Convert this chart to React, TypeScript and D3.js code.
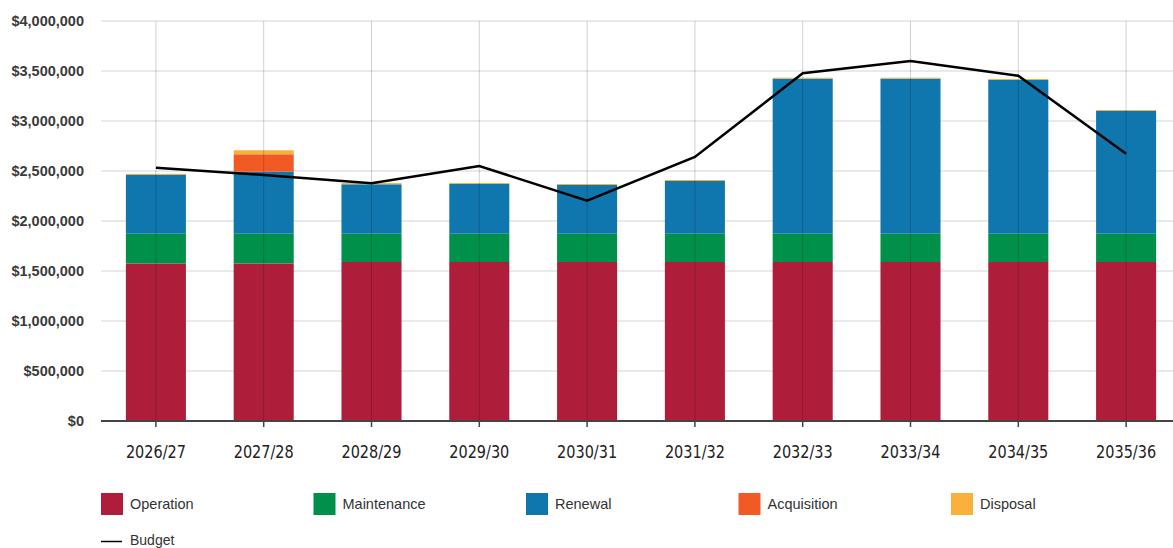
import React from "react";
import * as d3 from "d3";

const years = ["2026/27", "2027/28", "2028/29", "2029/30", "2030/31", "2031/32", "2032/33", "2033/34", "2034/35", "2035/36"];
const operation = [1575000, 1575000, 1590000, 1590000, 1590000, 1590000, 1590000, 1590000, 1590000, 1590000];
const maintenance = [298000, 298000, 283000, 283000, 283000, 283000, 283000, 283000, 283000, 283000];
const renewal = [587000, 620000, 494000, 497000, 487000, 527000, 1550000, 1550000, 1537000, 1227000];
const acquisition = [0, 174000, 0, 0, 0, 0, 0, 0, 0, 0];
const disposal = [12000, 40000, 12000, 10000, 10000, 10000, 10000, 10000, 10000, 10000];
const budget = [2533000, 2460000, 2377000, 2550000, 2203000, 2640000, 3477000, 3600000, 3453000, 2673000];
const yTicks = [0, 500000, 1000000, 1500000, 2000000, 2500000, 3000000, 3500000, 4000000];

const seriesNames = ["Operation", "Maintenance", "Renewal", "Acquisition", "Disposal"];
const seriesValues = [operation, maintenance, renewal, acquisition, disposal];
const seriesColors = ["#AE1E3A", "#00904A", "#0F77AD", "#F15A24", "#FBB03B"];

const W = 1173;
const H = 548;

export default function App() {
  const x = d3.scaleBand<string>().domain(years).range([102, 1180]).paddingInner(0.443).paddingOuter(0.2215);
  const y = d3.scaleLinear().domain([0, 4000000]).range([421, 21]);
  const fmt = d3.format("$,");

  const rows = years.map((yr, i) => {
    const r: Record<string, number | string> = { year: yr };
    seriesNames.forEach((n, k) => (r[n] = seriesValues[k][i]));
    return r;
  });
  const stacked = d3.stack<any>().keys(seriesNames)(rows);

  const cx = (yr: string) => (x(yr) as number) + x.bandwidth() / 2;
  const line = d3
    .line<number>()
    .x((_, i) => cx(years[i]))
    .y((d) => y(d));

  const legendX = (i: number) => 101 + i * 212.5;

  return (
    <svg width={W} height={H} style={{ position: "absolute", left: 0, top: 0, background: "#fff" }}>
      {/* horizontal grid */}
      {yTicks.map((t) => (
        <line key={"g" + t} x1={101} x2={W} y1={y(t)} y2={y(t)} stroke="#d4d4d4" strokeWidth={1} />
      ))}
      {/* stacked bars */}
      {stacked.map((s, k) => (
        <g key={s.key} fill={seriesColors[k]}>
          {s.map((d, i) =>
            d[1] - d[0] > 0 ? (
              <rect
                key={i}
                x={x(years[i])}
                width={x.bandwidth()}
                y={y(d[1])}
                height={y(d[0]) - y(d[1])}
              />
            ) : null
          )}
        </g>
      ))}
      {/* vertical grid over bars */}
      {years.map((yr) => (
        <line key={"v" + yr} x1={cx(yr)} x2={cx(yr)} y1={21} y2={421} stroke="rgba(0,0,0,0.18)" strokeWidth={1} />
      ))}
      {/* y axis labels */}
      {yTicks.map((t) => (
        <text
          key={"t" + t}
          x={84}
          y={y(t) + 5}
          textAnchor="end"
          fontFamily="Liberation Sans, Arial, sans-serif"
          fontWeight="bold"
          fontSize={14.5}
          fill="#3a3a3a"
        >
          {fmt(t)}
        </text>
      ))}
      {/* x axis */}
      <line x1={101} x2={W} y1={421} y2={421} stroke="#444" strokeWidth={2} />
      {years.map((yr) => (
        <g key={"x" + yr}>
          <line x1={cx(yr)} x2={cx(yr)} y1={421} y2={427} stroke="#444" strokeWidth={1.5} />
          <text
            x={cx(yr)}
            y={458}
            textAnchor="middle"
            fontFamily="DejaVu Sans Condensed, Liberation Sans Narrow, sans-serif"
            fontSize={18.5}
            textLength={60}
            lengthAdjust="spacingAndGlyphs"
            fill="#222"
          >
            {yr}
          </text>
        </g>
      ))}
      {/* budget line */}
      <path d={line(budget) || ""} fill="none" stroke="#000" strokeWidth={2.5} strokeLinejoin="miter" />
      {/* legend */}
      {seriesNames.map((n, i) => (
        <g key={"l" + n}>
          <rect x={legendX(i)} y={493} width={22} height={22} fill={seriesColors[i]} />
          <text
            x={legendX(i) + 29}
            y={509}
            fontFamily="Liberation Sans, Arial, sans-serif"
            fontSize={14.5}
            fill="#333"
          >
            {n}
          </text>
        </g>
      ))}
      <line x1={101} x2={122} y1={541.5} y2={541.5} stroke="#000" strokeWidth={1.5} />
      <text x={130} y={545} fontFamily="Liberation Sans, Arial, sans-serif" fontSize={14} fill="#333">
        Budget
      </text>
    </svg>
  );
}
